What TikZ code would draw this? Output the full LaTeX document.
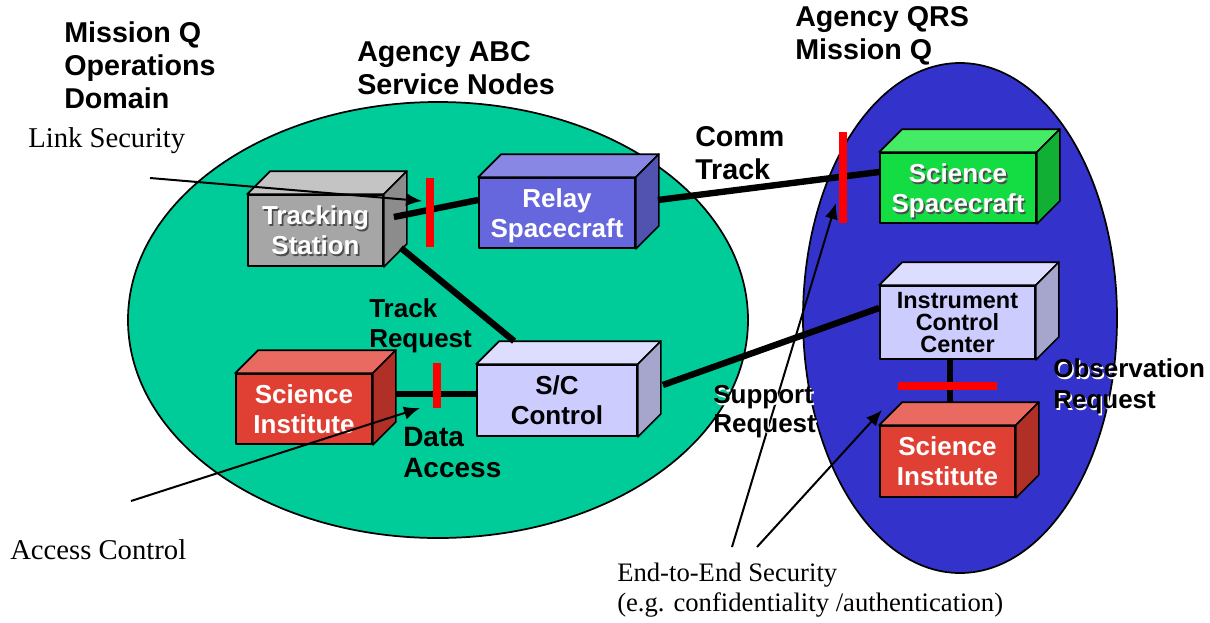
\documentclass[tikz,border=0pt]{standalone}
\usepackage{fontspec}
\setmainfont{Liberation Serif}
\setsansfont{Liberation Sans}
\usetikzlibrary{calc,arrows.meta,shapes.geometric}

\definecolor{domgreen}{RGB}{0,204,153}
\definecolor{domblue}{RGB}{51,51,204}
\definecolor{grayF}{RGB}{166,166,166}
\definecolor{grayT}{RGB}{196,196,196}
\definecolor{grayS}{RGB}{140,140,140}
\definecolor{relayF}{RGB}{102,102,221}
\definecolor{relayT}{RGB}{136,136,228}
\definecolor{relayS}{RGB}{82,82,176}
\definecolor{lavF}{RGB}{204,204,255}
\definecolor{lavT}{RGB}{221,221,255}
\definecolor{lavS}{RGB}{166,166,204}
\definecolor{redF}{RGB}{224,64,52}
\definecolor{redT}{RGB}{232,106,96}
\definecolor{redS}{RGB}{176,48,40}
\definecolor{grnF}{RGB}{20,221,68}
\definecolor{grnT}{RGB}{68,236,102}
\definecolor{grnS}{RGB}{17,176,53}
\definecolor{barred}{RGB}{255,0,0}

% text with a small offset shadow behind it
\newcommand\shad[2]{\makebox[0pt][l]{\kern1.2pt\raisebox{-1.2pt}{\textcolor{#1}{#2}}}#2}

% top and right faces of a box whose front face is node #1
\newcommand\cubesides[3]{%
  \filldraw[fill=#2, boxline] (#1.north west) -- ++(23,-23) -- ($(#1.north east)+(23,-23)$) -- (#1.north east) -- cycle;
  \filldraw[fill=#3, boxline] (#1.north east) -- ++(23,-23) -- ($(#1.south east)+(23,-23)$) -- (#1.south east) -- cycle;
}

\tikzset{
  boxline/.style={draw=black, line width=1.3pt, line join=round},
  cube/.style={boxline, inner sep=0pt, align=center, text depth=0pt,
    font=\sffamily\bfseries\fontsize{19.5}{22.5}\selectfont},
  zone/.style={ellipse, draw=black, line width=1.3pt, inner sep=0pt},
  link/.style={line width=4.8pt},
  guard/.style={barred, line width=6pt},
  pointer/.style={line width=1.5pt, -{Latex[length=12pt,width=10pt]}},
  head/.style={inner sep=0pt, anchor=west, align=left,
    font=\sffamily\bfseries\fontsize{21.5}{24.75}\selectfont},
  tag/.style={inner sep=0pt, anchor=west, align=left,
    font=\sffamily\bfseries\fontsize{19.5}{22.5}\selectfont},
  note/.style={inner sep=0pt, anchor=west, align=left,
    font=\fontsize{21.5}{22.5}\selectfont},
}

\begin{document}
\begin{tikzpicture}[x=0.75pt, y=-0.75pt]
\useasboundingbox (0,0) rectangle (1210,622);

% domains
\node[zone, fill=domgreen, minimum width=465pt, minimum height=327pt] (abc) at (438,320) {};
\node[zone, fill=domblue, minimum width=235.5pt, minimum height=382.5pt] (qrs) at (960,318) {};

% service nodes
\node[cube, fill=grayF, text=white, minimum width=101.25pt, minimum height=53.25pt] (ts) at (315.5,230.5)
  {\shad{black!70}{Tracking}\\\shad{black!70}{Station}};
\cubesides{ts}{grayT}{grayS}
\node[cube, fill=relayF, text=white, minimum width=117pt, minimum height=52.5pt] (rs) at (557,213)
  {Relay\\Spacecraft};
\cubesides{rs}{relayT}{relayS}
\node[cube, fill=lavF, text=black, minimum width=120pt, minimum height=53.25pt] (sc) at (557,400.5)
  {S/C\\Control};
\cubesides{sc}{lavT}{lavS}
\node[cube, fill=redF, text=white, minimum width=102pt, minimum height=52.5pt] (si1) at (304,409)
  {Science\\Institute};
\cubesides{si1}{redT}{redS}
\node[cube, fill=grnF, text=white, minimum width=117pt, minimum height=52.5pt] (ss) at (958,188)
  {\shad{black!70}{Science}\\\shad{black!70}{Spacecraft}};
\cubesides{ss}{grnT}{grnS}
\node[cube, fill=lavF, text=black, minimum width=116.25pt, minimum height=54.75pt,
  font=\sffamily\bfseries\fontsize{17.6}{16.5}\selectfont] (icc) at (957.5,322.5)
  {Instrument\\Control\\Center};
\cubesides{icc}{lavT}{lavS}
\node[cube, fill=redF, text=white, minimum width=101.25pt, minimum height=53.25pt] (si2) at (947.5,461.5)
  {Science\\Institute};
\cubesides{si2}{redT}{redS}

% links
\draw[link] ($(ts.east)+(10,-13.5)$) -- ($(rs.west)+(0,-13)$);
\draw[link] ($(rs.east)+(22,-13)$) -- ($(ss.west)+(0,-16)$);
\draw[link] ($(ts.south east)+(17,-19)$) -- ($(sc.north west)+(38,-23)$);
\draw[link] ($(si1.east)+(23,-15)$) -- ($(sc.west)+(0,-6.5)$);
\draw[link] ($(sc.east)+(25,-15.5)$) -- ($(icc.west)+(0,-14.5)$);
\draw[link] ($(icc.south)+(-7.5,0)$) -- ($(si2.north)+(2.5,-23)$);

% security barriers
\draw[guard] (430,178) -- (430,247);
\draw[guard] (843,132) -- (843,223);
\draw[guard] (437,363) -- (437,408);
\draw[guard] (898,386) -- (997,386);

% security callouts
\coordinate (lsA) at (150,178);
\coordinate (lsB) at (422,201);
\coordinate (acA) at (131,501);
\coordinate (acB) at (420,408);
\coordinate (eeA) at (732,547);
\coordinate (eeB) at (836,203);
\coordinate (eeC) at (757,547);
\coordinate (eeD) at (882,410);
\draw[pointer] (lsA) -- (lsB);
\draw[pointer] (acA) -- (acB);
\draw[pointer] (eeA) -- (eeB);
\draw[pointer] (eeC) -- (eeD);

% labels
\node[head] (mq) at (64,65) {Mission Q\\Operations\\Domain};
\node[head] (abcl) at (357,68.5) {Agency ABC\\Service Nodes};
\node[head] (qrsl) at (795,36) {Agency QRS\\Mission Q};
\node[head] (comm) at (695,153.5) {Comm\\Track};
\node[tag] (trq) at (369,326) {Track\\Request};
\node[head, font=\sffamily\bfseries\fontsize{21}{23.25}\selectfont] (dac) at (403,452.5) {Data\\Access};
\node[tag, font=\sffamily\bfseries\fontsize{19.5}{22}\selectfont] (srq) at (713,412.5)
  {\shad{white}{Support}\\\shad{white}{Request}};
\node[tag, font=\sffamily\bfseries\fontsize{19.5}{23.25}\selectfont] (orq) at (1053,387.5)
  {\shad{white}{Observation}\\\shad{white}{Request}};
\node[note] (lsec) at (28,141) {Link Security};
\node[note] (acc) at (10,550) {Access Control};
\node[note, font=\fontsize{20}{22.5}\selectfont] (e2e) at (617,590)
  {End-to-End Security\\(e.g. confidentiality /authentication)};
\end{tikzpicture}
\end{document}
